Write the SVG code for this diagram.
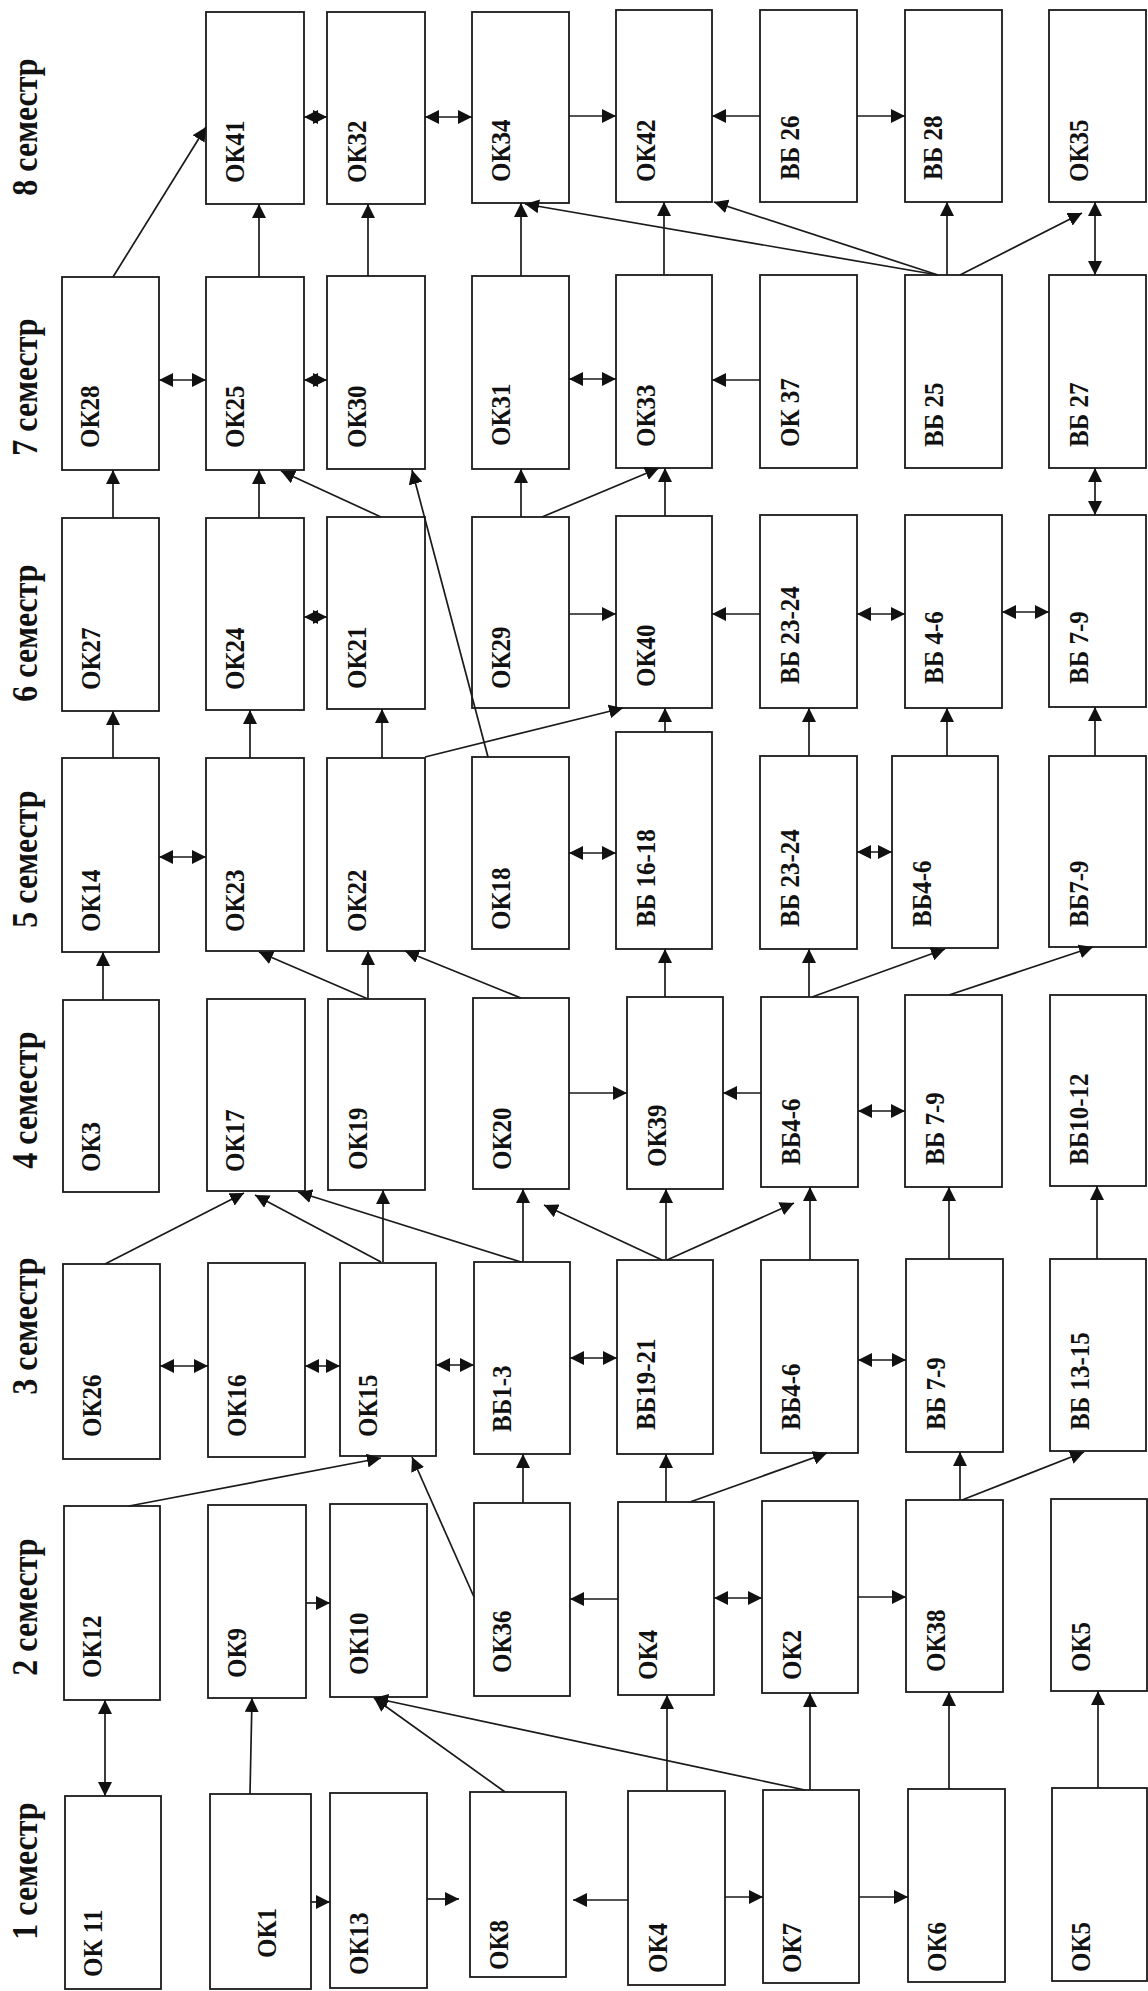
<svg xmlns="http://www.w3.org/2000/svg" width="1148" height="1991" viewBox="0 0 1148 1991">
<style>
.bg{fill:#ffffff}
.box{fill:#ffffff;stroke:#1a1a1a;stroke-width:1.8}
.lbl{font-family:"Liberation Serif","Times New Roman",serif;font-weight:bold;font-size:25px;fill:#111}
.sem{font-family:"Liberation Serif","Times New Roman",serif;font-weight:bold;font-size:32px;fill:#111;text-anchor:middle}
.c line{stroke:#1a1a1a;stroke-width:1.7;fill:none}
.a{marker-end:url(#ah)}
.d{marker-start:url(#ah);marker-end:url(#ah)}
</style>
<defs>
<marker id="ah" viewBox="0 0 14 14" refX="14" refY="7" markerWidth="14" markerHeight="14" markerUnits="userSpaceOnUse" orient="auto-start-reverse">
<path d="M0,0 L14,7 L0,14 z" fill="#111"/>
</marker>
</defs>
<rect class="bg" x="0" y="0" width="1148" height="1991"/>

<g id="semester-labels">
<text class="sem" transform="translate(37,127) rotate(-90) scale(1,1.1)">8 семестр</text>
<text class="sem" transform="translate(37,387) rotate(-90) scale(1,1.1)">7 семестр</text>
<text class="sem" transform="translate(37,633) rotate(-90) scale(1,1.1)">6 семестр</text>
<text class="sem" transform="translate(37,859) rotate(-90) scale(1,1.1)">5 семестр</text>
<text class="sem" transform="translate(37,1100) rotate(-90) scale(1,1.1)">4 семестр</text>
<text class="sem" transform="translate(37,1326) rotate(-90) scale(1,1.1)">3 семестр</text>
<text class="sem" transform="translate(37,1607) rotate(-90) scale(1,1.1)">2 семестр</text>
<text class="sem" transform="translate(37,1871) rotate(-90) scale(1,1.1)">1 семестр</text>
</g>

<!-- Semester 8 -->
<g id="s8-ok41"><rect class="box" x="206" y="12" width="98" height="192"/><text class="lbl" transform="translate(244,183) rotate(-90) scale(1,1.1)">ОК41</text></g>
<g id="s8-ok32"><rect class="box" x="327" y="12" width="98" height="192"/><text class="lbl" transform="translate(366,183) rotate(-90) scale(1,1.1)">ОК32</text></g>
<g id="s8-ok34"><rect class="box" x="472" y="12" width="97" height="191"/><text class="lbl" transform="translate(510,182) rotate(-90) scale(1,1.1)">ОК34</text></g>
<g id="s8-ok42"><rect class="box" x="616" y="10" width="96" height="192"/><text class="lbl" transform="translate(655,182) rotate(-90) scale(1,1.1)">ОК42</text></g>
<g id="s8-vb26"><rect class="box" x="760" y="10" width="97" height="192"/><text class="lbl" transform="translate(799,180) rotate(-90) scale(1,1.1)">ВБ 26</text></g>
<g id="s8-vb28"><rect class="box" x="905" y="10" width="97" height="192"/><text class="lbl" transform="translate(942,180) rotate(-90) scale(1,1.1)">ВБ 28</text></g>
<g id="s8-ok35"><rect class="box" x="1049" y="10" width="97" height="192"/><text class="lbl" transform="translate(1088,182) rotate(-90) scale(1,1.1)">ОК35</text></g>

<!-- Semester 7 -->
<g id="s7-ok28"><rect class="box" x="62" y="277" width="97" height="193"/><text class="lbl" transform="translate(99,448) rotate(-90) scale(1,1.1)">ОК28</text></g>
<g id="s7-ok25"><rect class="box" x="206" y="277" width="98" height="193"/><text class="lbl" transform="translate(244,448) rotate(-90) scale(1,1.1)">ОК25</text></g>
<g id="s7-ok30"><rect class="box" x="327" y="276" width="98" height="193"/><text class="lbl" transform="translate(366,448) rotate(-90) scale(1,1.1)">ОК30</text></g>
<g id="s7-ok31"><rect class="box" x="472" y="276" width="97" height="193"/><text class="lbl" transform="translate(510,446) rotate(-90) scale(1,1.1)">ОК31</text></g>
<g id="s7-ok33"><rect class="box" x="616" y="275" width="96" height="193"/><text class="lbl" transform="translate(655,447) rotate(-90) scale(1,1.1)">ОК33</text></g>
<g id="s7-ok37"><rect class="box" x="760" y="275" width="97" height="193"/><text class="lbl" transform="translate(799,447) rotate(-90) scale(1,1.1)">ОК 37</text></g>
<g id="s7-vb25"><rect class="box" x="905" y="275" width="97" height="193"/><text class="lbl" transform="translate(943,447) rotate(-90) scale(1,1.1)">ВБ 25</text></g>
<g id="s7-vb27"><rect class="box" x="1049" y="275" width="97" height="193"/><text class="lbl" transform="translate(1088,447) rotate(-90) scale(1,1.1)">ВБ 27</text></g>

<!-- Semester 6 -->
<g id="s6-ok27"><rect class="box" x="62" y="518" width="97" height="193"/><text class="lbl" transform="translate(100,690) rotate(-90) scale(1,1.1)">ОК27</text></g>
<g id="s6-ok24"><rect class="box" x="206" y="518" width="98" height="192"/><text class="lbl" transform="translate(244,690) rotate(-90) scale(1,1.1)">ОК24</text></g>
<g id="s6-ok21"><rect class="box" x="327" y="517" width="98" height="192"/><text class="lbl" transform="translate(366,689) rotate(-90) scale(1,1.1)">ОК21</text></g>
<g id="s6-ok29"><rect class="box" x="472" y="517" width="97" height="191"/><text class="lbl" transform="translate(510,689) rotate(-90) scale(1,1.1)">ОК29</text></g>
<g id="s6-ok40"><rect class="box" x="616" y="516" width="96" height="192"/><text class="lbl" transform="translate(655,687) rotate(-90) scale(1,1.1)">ОК40</text></g>
<g id="s6-vb23-24"><rect class="box" x="760" y="515" width="97" height="193"/><text class="lbl" transform="translate(799,684) rotate(-90) scale(1,1.1)">ВБ 23-24</text></g>
<g id="s6-vb4-6"><rect class="box" x="905" y="515" width="97" height="193"/><text class="lbl" transform="translate(943,684) rotate(-90) scale(1,1.1)">ВБ 4-6</text></g>
<g id="s6-vb7-9"><rect class="box" x="1049" y="515" width="97" height="192"/><text class="lbl" transform="translate(1088,684) rotate(-90) scale(1,1.1)">ВБ 7-9</text></g>

<!-- Semester 5 -->
<g id="s5-ok14"><rect class="box" x="62" y="758" width="97" height="194"/><text class="lbl" transform="translate(100,932) rotate(-90) scale(1,1.1)">ОК14</text></g>
<g id="s5-ok23"><rect class="box" x="206" y="758" width="98" height="193"/><text class="lbl" transform="translate(244,932) rotate(-90) scale(1,1.1)">ОК23</text></g>
<g id="s5-ok22"><rect class="box" x="327" y="758" width="98" height="193"/><text class="lbl" transform="translate(366,932) rotate(-90) scale(1,1.1)">ОК22</text></g>
<g id="s5-ok18"><rect class="box" x="472" y="757" width="97" height="192"/><text class="lbl" transform="translate(510,930) rotate(-90) scale(1,1.1)">ОК18</text></g>
<g id="s5-vb16-18"><rect class="box" x="616" y="732" width="96" height="217"/><text class="lbl" transform="translate(655,927) rotate(-90) scale(1,1.1)">ВБ 16-18</text></g>
<g id="s5-vb23-24"><rect class="box" x="760" y="756" width="97" height="193"/><text class="lbl" transform="translate(799,927) rotate(-90) scale(1,1.1)">ВБ 23-24</text></g>
<g id="s5-vb4-6"><rect class="box" x="892" y="756" width="106" height="192"/><text class="lbl" transform="translate(931,927) rotate(-90) scale(1,1.1)">ВБ4-6</text></g>
<g id="s5-vb7-9"><rect class="box" x="1049" y="756" width="97" height="191"/><text class="lbl" transform="translate(1088,927) rotate(-90) scale(1,1.1)">ВБ7-9</text></g>

<!-- Semester 4 -->
<g id="s4-ok3"><rect class="box" x="63" y="1000" width="96" height="192"/><text class="lbl" transform="translate(100,1172) rotate(-90) scale(1,1.1)">ОК3</text></g>
<g id="s4-ok17"><rect class="box" x="207" y="999" width="98" height="192"/><text class="lbl" transform="translate(244,1172) rotate(-90) scale(1,1.1)">ОК17</text></g>
<g id="s4-ok19"><rect class="box" x="328" y="999" width="97" height="191"/><text class="lbl" transform="translate(367,1170) rotate(-90) scale(1,1.1)">ОК19</text></g>
<g id="s4-ok20"><rect class="box" x="473" y="998" width="96" height="191"/><text class="lbl" transform="translate(511,1170) rotate(-90) scale(1,1.1)">ОК20</text></g>
<g id="s4-ok39"><rect class="box" x="627" y="997" width="96" height="192"/><text class="lbl" transform="translate(666,1167) rotate(-90) scale(1,1.1)">ОК39</text></g>
<g id="s4-vb4-6"><rect class="box" x="761" y="997" width="97" height="190"/><text class="lbl" transform="translate(800,1165) rotate(-90) scale(1,1.1)">ВБ4-6</text></g>
<g id="s4-vb7-9"><rect class="box" x="905" y="995" width="97" height="192"/><text class="lbl" transform="translate(944,1165) rotate(-90) scale(1,1.1)">ВБ 7-9</text></g>
<g id="s4-vb10-12"><rect class="box" x="1050" y="995" width="96" height="191"/><text class="lbl" transform="translate(1088,1165) rotate(-90) scale(1,1.1)">ВБ10-12</text></g>

<!-- Semester 3 -->
<g id="s3-ok26"><rect class="box" x="63" y="1264" width="97" height="195"/><text class="lbl" transform="translate(101,1437) rotate(-90) scale(1,1.1)">ОК26</text></g>
<g id="s3-ok16"><rect class="box" x="208" y="1263" width="97" height="194"/><text class="lbl" transform="translate(246,1437) rotate(-90) scale(1,1.1)">ОК16</text></g>
<g id="s3-ok15"><rect class="box" x="340" y="1263" width="96" height="193"/><text class="lbl" transform="translate(377,1437) rotate(-90) scale(1,1.1)">ОК15</text></g>
<g id="s3-vb1-3"><rect class="box" x="474" y="1262" width="96" height="192"/><text class="lbl" transform="translate(511,1432) rotate(-90) scale(1,1.1)">ВБ1-3</text></g>
<g id="s3-vb19-21"><rect class="box" x="617" y="1260" width="96" height="194"/><text class="lbl" transform="translate(655,1430) rotate(-90) scale(1,1.1)">ВБ19-21</text></g>
<g id="s3-vb4-6"><rect class="box" x="761" y="1260" width="97" height="193"/><text class="lbl" transform="translate(800,1430) rotate(-90) scale(1,1.1)">ВБ4-6</text></g>
<g id="s3-vb7-9"><rect class="box" x="906" y="1259" width="97" height="193"/><text class="lbl" transform="translate(945,1430) rotate(-90) scale(1,1.1)">ВБ 7-9</text></g>
<g id="s3-vb13-15"><rect class="box" x="1050" y="1259" width="96" height="192"/><text class="lbl" transform="translate(1089,1430) rotate(-90) scale(1,1.1)">ВБ 13-15</text></g>

<!-- Semester 2 -->
<g id="s2-ok12"><rect class="box" x="64" y="1506" width="96" height="194"/><text class="lbl" transform="translate(101,1678) rotate(-90) scale(1,1.1)">ОК12</text></g>
<g id="s2-ok9"><rect class="box" x="208" y="1505" width="98" height="193"/><text class="lbl" transform="translate(246,1678) rotate(-90) scale(1,1.1)">ОК9</text></g>
<g id="s2-ok10"><rect class="box" x="330" y="1504" width="97" height="193"/><text class="lbl" transform="translate(368,1675) rotate(-90) scale(1,1.1)">ОК10</text></g>
<g id="s2-ok36"><rect class="box" x="474" y="1503" width="96" height="193"/><text class="lbl" transform="translate(511,1673) rotate(-90) scale(1,1.1)">ОК36</text></g>
<g id="s2-ok4"><rect class="box" x="618" y="1502" width="96" height="193"/><text class="lbl" transform="translate(657,1680) rotate(-90) scale(1,1.1)">ОК4</text></g>
<g id="s2-ok2"><rect class="box" x="762" y="1501" width="96" height="192"/><text class="lbl" transform="translate(801,1680) rotate(-90) scale(1,1.1)">ОК2</text></g>
<g id="s2-ok38"><rect class="box" x="906" y="1500" width="97" height="192"/><text class="lbl" transform="translate(945,1672) rotate(-90) scale(1,1.1)">ОК38</text></g>
<g id="s2-ok5"><rect class="box" x="1051" y="1499" width="96" height="192"/><text class="lbl" transform="translate(1090,1672) rotate(-90) scale(1,1.1)">ОК5</text></g>

<!-- Semester 1 -->
<g id="s1-ok11"><rect class="box" x="65" y="1796" width="96" height="193"/><text class="lbl" transform="translate(102,1977) rotate(-90) scale(1,1.1)">ОК 11</text></g>
<g id="s1-ok1"><rect class="box" x="210" y="1794" width="101" height="195"/><text class="lbl" transform="translate(276,1958) rotate(-90) scale(1,1.1)">ОК1</text></g>
<g id="s1-ok13"><rect class="box" x="330" y="1793" width="97" height="195"/><text class="lbl" transform="translate(368,1975) rotate(-90) scale(1,1.1)">ОК13</text></g>
<g id="s1-ok8"><rect class="box" x="470" y="1792" width="96" height="185"/><text class="lbl" transform="translate(508,1970) rotate(-90) scale(1,1.1)">ОК8</text></g>
<g id="s1-ok4"><rect class="box" x="628" y="1791" width="97" height="194"/><text class="lbl" transform="translate(667,1973) rotate(-90) scale(1,1.1)">ОК4</text></g>
<g id="s1-ok7"><rect class="box" x="763" y="1790" width="96" height="193"/><text class="lbl" transform="translate(801,1973) rotate(-90) scale(1,1.1)">ОК7</text></g>
<g id="s1-ok6"><rect class="box" x="908" y="1789" width="97" height="193"/><text class="lbl" transform="translate(946,1972) rotate(-90) scale(1,1.1)">ОК6</text></g>
<g id="s1-ok5"><rect class="box" x="1052" y="1788" width="95" height="193"/><text class="lbl" transform="translate(1090,1972) rotate(-90) scale(1,1.1)">ОК5</text></g>

<g id="connectors" class="c">
<!-- semester 8 -->
<line class="a" x1="569" y1="116" x2="616" y2="116"/>
<line class="a" x1="760" y1="116" x2="712" y2="116"/>
<line class="a" x1="857" y1="116" x2="905" y2="116"/>
<line class="d" x1="304" y1="117" x2="327" y2="117"/>
<line class="d" x1="425" y1="117" x2="472" y2="117"/>
<!-- 7 to 8 -->
<line class="a" x1="113" y1="277" x2="206" y2="127"/>
<line class="a" x1="259" y1="277" x2="259" y2="204"/>
<line class="a" x1="368" y1="276" x2="368" y2="204"/>
<line class="a" x1="521" y1="276" x2="521" y2="203"/>
<line class="a" x1="664" y1="275" x2="664" y2="202"/>
<line class="a" x1="947" y1="275" x2="947" y2="202"/>
<line class="a" x1="938" y1="275" x2="525" y2="204"/>
<line class="a" x1="938" y1="275" x2="714" y2="202"/>
<line class="a" x1="960" y1="275" x2="1082" y2="213"/>
<line class="d" x1="1095" y1="202" x2="1095" y2="275"/>
<!-- semester 7 -->
<line class="d" x1="159" y1="380" x2="206" y2="380"/>
<line class="d" x1="304" y1="380" x2="327" y2="380"/>
<line class="d" x1="569" y1="379" x2="616" y2="379"/>
<line class="a" x1="760" y1="380" x2="712" y2="380"/>
<!-- 6 to 7 -->
<line class="a" x1="113" y1="518" x2="113" y2="470"/>
<line class="a" x1="259" y1="518" x2="259" y2="470"/>
<line class="a" x1="381" y1="517" x2="281" y2="471"/>
<line class="a" x1="488" y1="757" x2="412" y2="470"/>
<line class="a" x1="521" y1="517" x2="521" y2="469"/>
<line class="a" x1="542" y1="517" x2="659" y2="468"/>
<line class="a" x1="665" y1="516" x2="665" y2="468"/>
<line class="d" x1="1095" y1="468" x2="1095" y2="515"/>
<!-- semester 6 -->
<line class="d" x1="304" y1="617" x2="327" y2="617"/>
<line class="a" x1="569" y1="614" x2="616" y2="614"/>
<line class="a" x1="760" y1="614" x2="712" y2="614"/>
<line class="d" x1="857" y1="614" x2="905" y2="614"/>
<line class="d" x1="1002" y1="612" x2="1049" y2="612"/>
<!-- 5 to 6 -->
<line class="a" x1="113" y1="758" x2="113" y2="711"/>
<line class="a" x1="250" y1="758" x2="250" y2="710"/>
<line class="a" x1="382" y1="758" x2="382" y2="709"/>
<line class="a" x1="425" y1="757" x2="623" y2="708"/>
<line class="a" x1="665" y1="732" x2="665" y2="708"/>
<line class="a" x1="809" y1="756" x2="809" y2="708"/>
<line class="a" x1="947" y1="756" x2="947" y2="708"/>
<line class="a" x1="1095" y1="756" x2="1095" y2="707"/>
<!-- semester 5 -->
<line class="d" x1="159" y1="857" x2="206" y2="857"/>
<line class="d" x1="569" y1="853" x2="616" y2="853"/>
<line class="d" x1="857" y1="852" x2="892" y2="852"/>
<!-- 4 to 5 -->
<line class="a" x1="103" y1="1000" x2="103" y2="952"/>
<line class="a" x1="368" y1="999" x2="259" y2="952"/>
<line class="a" x1="368" y1="999" x2="368" y2="951"/>
<line class="a" x1="521" y1="998" x2="405" y2="951"/>
<line class="a" x1="665" y1="997" x2="665" y2="949"/>
<line class="a" x1="809" y1="997" x2="809" y2="949"/>
<line class="a" x1="812" y1="997" x2="945" y2="949"/>
<line class="a" x1="949" y1="995" x2="1093" y2="947"/>
<!-- semester 4 -->
<line class="a" x1="569" y1="1093" x2="627" y2="1093"/>
<line class="a" x1="761" y1="1093" x2="723" y2="1093"/>
<line class="d" x1="858" y1="1111" x2="905" y2="1111"/>
<!-- 3 to 4 -->
<line class="a" x1="105" y1="1264" x2="244" y2="1193"/>
<line class="a" x1="381" y1="1262" x2="255" y2="1195"/>
<line class="a" x1="383" y1="1262" x2="383" y2="1190"/>
<line class="a" x1="521" y1="1262" x2="298" y2="1192"/>
<line class="a" x1="523" y1="1262" x2="523" y2="1189"/>
<line class="a" x1="662" y1="1260" x2="544" y2="1205"/>
<line class="a" x1="666" y1="1260" x2="666" y2="1189"/>
<line class="a" x1="667" y1="1260" x2="794" y2="1203"/>
<line class="a" x1="810" y1="1260" x2="810" y2="1187"/>
<line class="a" x1="949" y1="1259" x2="949" y2="1187"/>
<line class="a" x1="1097" y1="1259" x2="1097" y2="1186"/>
<!-- semester 3 -->
<line class="d" x1="160" y1="1366" x2="208" y2="1366"/>
<line class="d" x1="305" y1="1366" x2="340" y2="1366"/>
<line class="d" x1="436" y1="1365" x2="474" y2="1365"/>
<line class="d" x1="570" y1="1358" x2="617" y2="1358"/>
<line class="d" x1="858" y1="1360" x2="906" y2="1360"/>
<!-- 2 to 3 -->
<line class="a" x1="129" y1="1506" x2="381" y2="1458"/>
<line class="a" x1="474" y1="1597" x2="412" y2="1457"/>
<line class="a" x1="523" y1="1503" x2="523" y2="1454"/>
<line class="a" x1="666" y1="1502" x2="666" y2="1454"/>
<line class="a" x1="690" y1="1502" x2="827" y2="1453"/>
<line class="a" x1="960" y1="1500" x2="960" y2="1452"/>
<line class="a" x1="962" y1="1500" x2="1084" y2="1452"/>
<!-- semester 2 -->
<line class="a" x1="306" y1="1603" x2="330" y2="1603"/>
<line class="a" x1="618" y1="1599" x2="570" y2="1599"/>
<line class="d" x1="714" y1="1598" x2="762" y2="1598"/>
<line class="a" x1="858" y1="1597" x2="906" y2="1597"/>
<!-- 1 to 2 -->
<line class="d" x1="105" y1="1700" x2="105" y2="1796"/>
<line class="a" x1="250" y1="1794" x2="252" y2="1698"/>
<line class="a" x1="505" y1="1792" x2="374" y2="1698"/>
<line class="a" x1="805" y1="1790" x2="374" y2="1698"/>
<line class="a" x1="667" y1="1791" x2="667" y2="1695"/>
<line class="a" x1="810" y1="1790" x2="810" y2="1693"/>
<line class="a" x1="949" y1="1789" x2="949" y2="1692"/>
<line class="a" x1="1098" y1="1788" x2="1098" y2="1691"/>
<!-- semester 1 -->
<line class="a" x1="311" y1="1902" x2="330" y2="1902"/>
<line class="a" x1="427" y1="1899" x2="459" y2="1899"/>
<line class="a" x1="628" y1="1900" x2="573" y2="1900"/>
<line class="a" x1="725" y1="1897" x2="763" y2="1897"/>
<line class="a" x1="859" y1="1897" x2="908" y2="1897"/>
</g>
</svg>
